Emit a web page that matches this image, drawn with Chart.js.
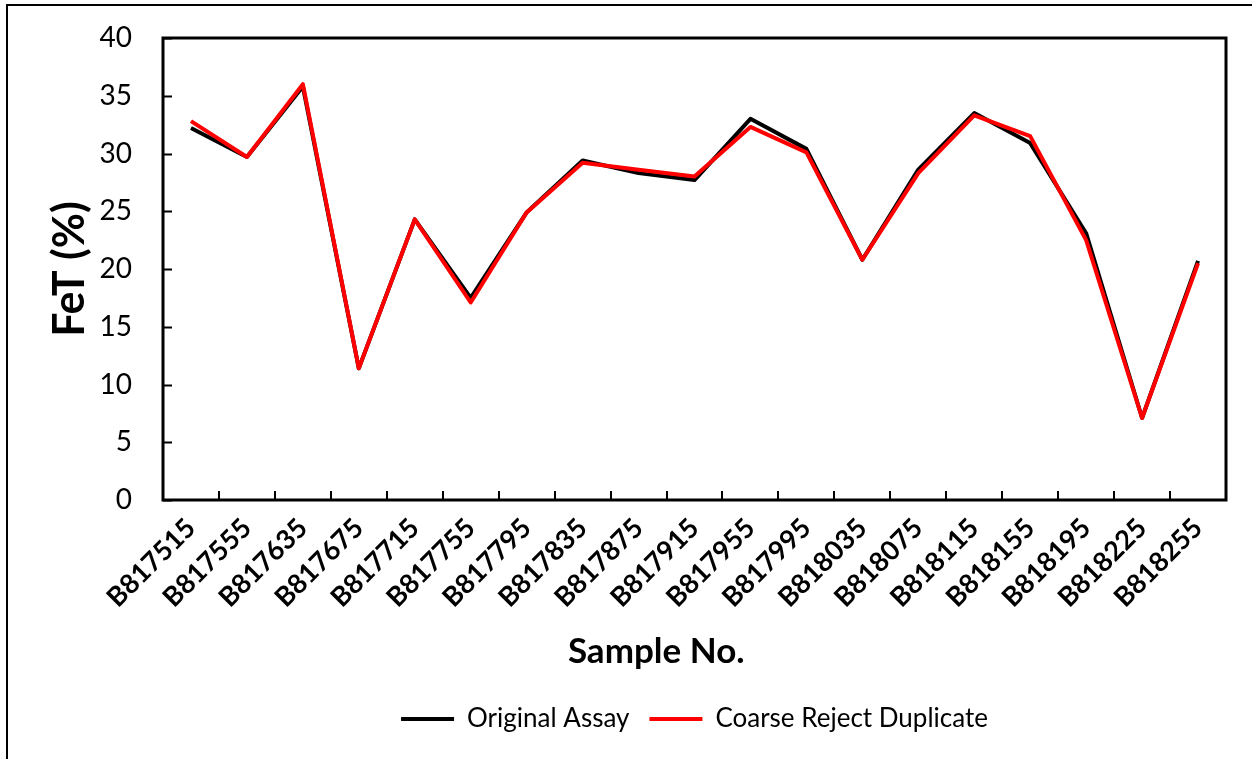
<!DOCTYPE html>
<html>
<head>
<meta charset="utf-8">
<script src="https://cdn.jsdelivr.net/npm/chart.js@4/dist/chart.umd.min.js"></script>
<style>
  html, body { margin: 0; padding: 0; background: #fff; }
  #wrap { position: relative; width: 1252px; height: 759px; overflow: hidden; }
  #frame { position: absolute; left: 6px; top: 4px; width: 1300px; height: 800px;
           border-left: 2px solid #000; border-top: 2px solid #000; }
  #myChart { position: absolute; left: 0; top: 0; }
</style>
</head>
<body>
<div id="wrap">
  <div id="frame"></div>
  <canvas id="myChart" width="1252" height="759"></canvas>
</div>
<script>
// sample numbers along the x axis
const samples = ["B817515", "B817555", "B817635", "B817675", "B817715", "B817755", "B817795",
  "B817835", "B817875", "B817915", "B817955", "B817995", "B818035", "B818075", "B818115",
  "B818155", "B818195", "B818225", "B818255"];

// FeT (%)
const originalAssay = [32.2, 29.7, 35.8, 11.4, 24.3, 17.5, 24.9, 29.4, 28.3, 27.7,
  33.0, 30.4, 20.8, 28.6, 33.5, 30.9, 23.1, 7.1, 20.7];
const coarseReject = [32.8, 29.7, 36.0, 11.4, 24.3, 17.1, 24.9, 29.2, 28.6, 28.0,
  32.3, 30.1, 20.8, 28.3, 33.3, 31.5, 22.5, 7.1, 20.5];

const yTicks = [0, 5, 10, 15, 20, 25, 30, 35, 40];

// inward tick marks + plot frame, like the excel chart
const frameTicks = {
  id: 'frameTicks',
  afterLayout(chart) {
    // center the legend under the plot area instead of the whole canvas
    const lg = chart.legend, a = chart.chartArea;
    const d = (a.left + a.right) / 2 - (lg.left + lg.right) / 2;
    lg.left += d;
    lg.right += d;
  },
  afterDraw(chart) {
    const c = chart.ctx, a = chart.chartArea;
    const x = chart.scales.x, y = chart.scales.y;
    c.save();
    c.strokeStyle = '#000';
    c.lineWidth = 2;
    c.beginPath();
    yTicks.forEach(v => {
      const py = Math.round(y.getPixelForValue(v)) + 0.5;
      c.moveTo(a.left, py);
      c.lineTo(a.left + 9, py);
    });
    for (let i = 0; i < samples.length - 1; i++) {
      const px = Math.round((x.getPixelForTick(i) + x.getPixelForTick(i + 1)) / 2);
      c.moveTo(px, a.bottom);
      c.lineTo(px, a.bottom - 9);
    }
    c.stroke();
    c.lineWidth = 3;
    c.strokeRect(a.left, a.top, a.right - a.left, a.bottom - a.top);
    c.restore();
  }
};

const ctx = document.getElementById('myChart');

new Chart(ctx, {
  type: 'line',
  data: {
    labels: samples,
    datasets: [
      {
        label: 'Original Assay',
        data: originalAssay,
        borderColor: '#000000',
        backgroundColor: '#000000',
        borderWidth: 4,
        pointRadius: 0,
        borderJoinStyle: 'round',
        order: 2
      },
      {
        label: 'Coarse Reject Duplicate',
        data: coarseReject,
        borderColor: '#ff0000',
        backgroundColor: '#ff0000',
        borderWidth: 4,
        pointRadius: 0,
        borderJoinStyle: 'round',
        order: 1
      }
    ]
  },
  options: {
    responsive: false,
    animation: false,
    layout: { padding: { top: 38, right: 26, left: 0, bottom: 17 } },
    plugins: {
      tooltip: { enabled: false },
      legend: {
        position: 'bottom',
        labels: {
          usePointStyle: true,
          pointStyle: 'line',
          pointStyleWidth: 53,
          padding: 20,
          color: '#000',
          font: { family: 'Lato', size: 26 },
          sort: (a, b) => a.datasetIndex - b.datasetIndex
        }
      }
    },
    scales: {
      x: {
        offset: true,
        grid: { display: false, drawTicks: false },
        border: { display: false },
        ticks: {
          color: '#000',
          font: { family: 'Lato', size: 27, weight: 'bold' },
          maxRotation: 45,
          minRotation: 45,
          padding: 12,
          autoSkip: false
        },
        title: {
          display: true,
          text: 'Sample No.\u00A0\u00A0\u00A0\u00A0\u00A0\u00A0\u00A0\u00A0\u00A0',
          color: '#000',
          font: { family: 'Lato', size: 35, weight: 'bold' },
          padding: { top: 13, bottom: 13 }
        },
        afterFit(scale) {
          scale.height = 186;
          scale.paddingLeft = 0;
          scale.paddingRight = 0;
        }
      },
      y: {
        min: 0,
        max: 40,
        grid: { display: false, drawTicks: false },
        border: { display: false },
        ticks: {
          stepSize: 5,
          color: '#000',
          padding: 31,
          font: { family: 'Lato', size: 28 }
        },
        title: {
          display: true,
          text: 'FeT (%)',
          color: '#000',
          font: { family: 'Lato', size: 43, weight: 'bold' },
          padding: { top: 44, bottom: 44 }
        },
        afterFit(scale) {
          scale.width = 163;
          scale.paddingTop = 0;
          scale.paddingBottom = 0;
        }
      }
    }
  },
  plugins: [frameTicks]
});
</script>
</body>
</html>
